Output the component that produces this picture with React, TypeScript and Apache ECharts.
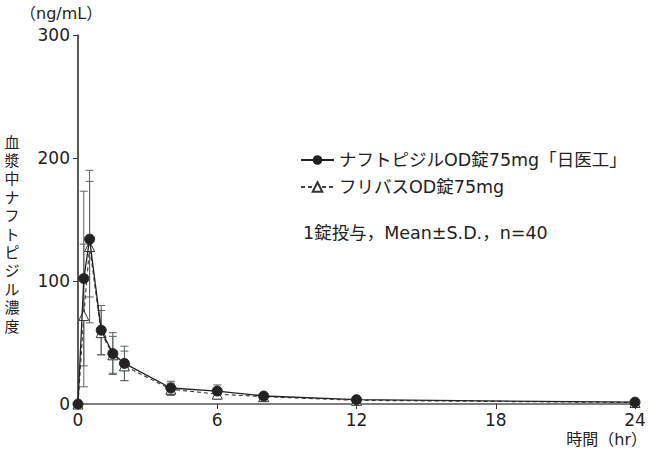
import React, { useEffect, useRef } from "react";
import * as echarts from "echarts";

const times = [0, 0.25, 0.5, 1, 1.5, 2, 4, 6, 8, 12, 24];
const nichiiko = [0, 102, 134, 60, 41, 33, 13, 10.5, 6.5, 3.5, 1.5];
const nichiikoSD = [0, 71, 47, 20, 17, 14, 5.5, 5, 2, 1.5, 1];
const flivas = [0, 72, 128, 58, 40, 31, 12, 8, 6, 3, 1.2];
const flivasSD = [0, 58, 62, 18, 15, 12, 5, 4, 2, 1.5, 1];
const xTicks = [0, 6, 12, 18, 24];
const yTicks = [0, 100, 200, 300];
const nameA = "ナフトピジルOD錠75mg「日医工」";
const nameB = "フリバスOD錠75mg";
const yTitleChars = "血漿中ナフトピジル濃度".split("");

const FONT = "'DejaVu Sans', 'Noto Sans CJK JP', sans-serif";
const CJK = "'Noto Sans CJK JP', sans-serif";

function errData(vals: number[], sd: number[]) {
  return times.map((t, i) => [t, vals[i] - sd[i], vals[i] + sd[i]]);
}

function errRender(params: any, api: any) {
  const x = api.value(0);
  if (api.value(2) - api.value(1) <= 0) return null;
  const lo = api.coord([x, api.value(1)]);
  const hi = api.coord([x, api.value(2)]);
  const w = 4;
  const style = { stroke: "#5a6464", lineWidth: 1, fill: null };
  return {
    type: "group",
    children: [
      { type: "line", shape: { x1: hi[0], y1: hi[1], x2: lo[0], y2: lo[1] }, style },
      { type: "line", shape: { x1: hi[0] - w, y1: hi[1], x2: hi[0] + w, y2: hi[1] }, style },
      { type: "line", shape: { x1: lo[0] - w, y1: lo[1], x2: lo[0] + w, y2: lo[1] }, style },
    ],
  };
}

export default function App() {
  const ref = useRef<HTMLDivElement>(null);
  useEffect(() => {
    if (!ref.current) return;
    const chart = echarts.init(ref.current, null, { renderer: "svg" });
    const titleTexts = yTitleChars.map((c, i) => ({
      type: "text",
      x: 12,
      y: 141 + i * 18.4,
      style: {
        text: c,
        fontSize: 15,
        fill: "#222",
        fontFamily: CJK,
        align: "center",
        verticalAlign: "middle",
      },
    }));
    chart.setOption({
      animation: false,
      backgroundColor: "#fff",
      textStyle: { fontFamily: FONT },
      grid: { left: 78, right: 14, top: 35, bottom: 50, containLabel: false },
      xAxis: {
        type: "value",
        min: 0,
        max: 24,
        interval: 6,
        axisLine: { show: true, lineStyle: { color: "#555", width: 1.5 } },
        axisTick: { show: true, length: 5, lineStyle: { color: "#333" } },
        axisLabel: {
          fontSize: 17,
          color: "#222",
          margin: 7,
          fontFamily: FONT,
          formatter: (v: number) => (xTicks.includes(v) ? String(v) : ""),
        },
        splitLine: { show: false },
      },
      yAxis: {
        type: "value",
        min: 0,
        max: 300,
        interval: 100,
        axisLine: { show: true, lineStyle: { color: "#1e2a1e", width: 1.5 } },
        axisTick: { show: true, length: 5, lineStyle: { color: "#333" } },
        axisLabel: {
          fontSize: 17,
          color: "#222",
          margin: 8,
          fontFamily: FONT,
          formatter: (v: number) => (yTicks.includes(v) ? String(v) : ""),
        },
        splitLine: { show: false },
      },
      legend: {
        orient: "vertical",
        left: 300,
        top: 151,
        padding: 0,
        itemWidth: 33,
        itemHeight: 12,
        itemGap: 9,
        textStyle: { fontSize: 17.5, lineHeight: 18, color: "#222", fontFamily: FONT },
        data: [nameA, nameB],
      },
      graphic: [
        {
          type: "text",
          left: 20,
          top: 5,
          style: { text: "（ng/mL）", fontSize: 16, fill: "#222", fontFamily: FONT },
        },
        ...titleTexts,
        {
          type: "text",
          right: 2,
          top: 431,
          style: { text: "時間（hr）", fontSize: 16, fill: "#222", fontFamily: FONT },
        },
        {
          type: "text",
          left: 303,
          top: 224,
          style: { text: "1錠投与，Mean±S.D.，n=40", fontSize: 17.5, fill: "#222", fontFamily: FONT },
        },
      ],
      series: [
        {
          type: "custom",
          name: "errA",
          renderItem: errRender,
          data: errData(nichiiko, nichiikoSD),
          encode: { x: 0, y: [1, 2] },
          z: 1,
          silent: true,
        },
        {
          type: "custom",
          name: "errB",
          renderItem: errRender,
          data: errData(flivas, flivasSD),
          encode: { x: 0, y: [1, 2] },
          z: 1,
          silent: true,
        },
        {
          type: "line",
          name: nameB,
          data: times.map((t, i) => [t, flivas[i]]),
          symbol: "triangle",
          symbolSize: 10,
          lineStyle: { color: "#444", width: 1.2, type: [4, 3] },
          itemStyle: { color: "#fff", borderColor: "#333", borderWidth: 1 },
          z: 3,
        },
        {
          type: "line",
          name: nameA,
          data: times.map((t, i) => [t, nichiiko[i]]),
          symbol: "circle",
          symbolSize: 10,
          lineStyle: { color: "#222", width: 1.3 },
          itemStyle: { color: "#222", borderColor: "#222" },
          z: 4,
        },
      ],
    });
    return () => chart.dispose();
  }, []);
  return <div ref={ref} style={{ width: 649, height: 454, position: "absolute", left: 0, top: 0 }} />;
}
